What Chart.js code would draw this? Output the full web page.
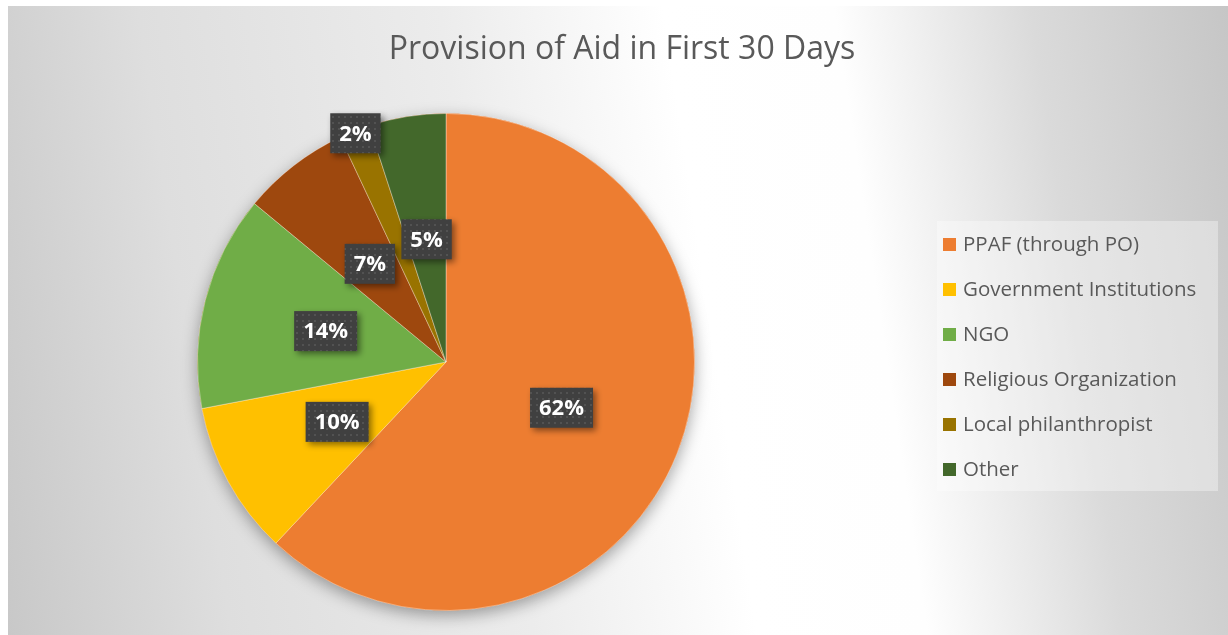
<!DOCTYPE html>
<html>
<head>
<meta charset="utf-8">
<script src="https://cdn.jsdelivr.net/npm/chart.js@4/dist/chart.umd.min.js"></script>
<style>
  html, body { margin: 0; padding: 0; background: #fff; }
  #frame {
    position: absolute; left: 8px; top: 6px; width: 1220px; height: 629px;
    background: linear-gradient(81.5deg, #c8c8c8 0%, #dedede 17%, #ececec 40%, #ffffff 57%, #fefefe 70%, #dadada 85%, #c6c6c6 100%);
  }
  #aidChart { position: absolute; left: 0; top: 0; }
</style>
</head>
<body>
<div id="frame"></div>
<canvas id="aidChart" width="1228" height="635"></canvas>
<script>
// --- Chart data ---
const chartTitle = 'Provision of Aid in First 30 Days';
const categories = ['PPAF (through PO)', 'Government Institutions', 'NGO', 'Religious Organization', 'Local philanthropist', 'Other'];
const shares = [62, 10, 14, 7, 2, 5];
const sliceColors = ['#ED7D31', '#FFC000', '#70AD47', '#9E480E', '#997300', '#43682B'];

const textGrey = '#595959';

// dotted dark fill used behind the data labels
function makeDotPattern(ctx) {
    const tile = document.createElement('canvas');
    tile.width = 6; tile.height = 6;
    const t = tile.getContext('2d');
    t.fillStyle = '#404040';
    t.fillRect(0, 0, 6, 6);
    t.fillStyle = '#525252';
    t.fillRect(2, 2, 2, 2);
    return ctx.createPattern(tile, 'repeat');
}

// Soft shadow under the whole pie
const pieShadow = {
    id: 'pieShadow',
    beforeDatasetsDraw(chart) {
        const arc = chart.getDatasetMeta(0).data[0];
        if (!arc) return;
        const ctx = chart.ctx;
        ctx.save();
        ctx.shadowColor = 'rgba(0,0,0,0.35)';
        ctx.shadowBlur = 16;
        ctx.shadowOffsetY = 5;
        ctx.fillStyle = sliceColors[0];
        ctx.beginPath();
        ctx.arc(arc.x, arc.y, arc.outerRadius, 0, Math.PI * 2);
        ctx.fill();
        ctx.restore();
    }
};

// Percentage boxes on the slices
const sliceLabels = {
    id: 'sliceLabels',
    afterDatasetsDraw(chart, args, opts) {
        const ctx = chart.ctx;
        const meta = chart.getDatasetMeta(0);
        const values = chart.data.datasets[0].data;
        const total = values.reduce((a, b) => a + b, 0);
        const pattern = makeDotPattern(ctx);
        ctx.save();
        ctx.font = 'bold 22px "Open Sans"';
        ctx.textAlign = 'center';
        ctx.textBaseline = 'middle';
        meta.data.forEach((arc, i) => {
            const mid = (arc.startAngle + arc.endAngle) / 2;
            const r = arc.outerRadius * (opts.radius[i] ?? 0.5);
            const x = arc.x + Math.cos(mid) * r;
            const y = arc.y + Math.sin(mid) * r;
            const txt = Math.round(values[i] / total * 100) + '%';
            const w = ctx.measureText(txt).width + 18;
            const h = 40;
            ctx.save();
            ctx.shadowColor = 'rgba(0,0,0,0.45)';
            ctx.shadowBlur = 6;
            ctx.shadowOffsetX = 3;
            ctx.shadowOffsetY = 3;
            ctx.fillStyle = pattern;
            ctx.fillRect(x - w / 2, y - h / 2, w, h);
            ctx.restore();
            ctx.fillStyle = '#ffffff';
            ctx.fillText(txt, x, y + 1);
        });
        ctx.restore();
    }
};

// Title and legend, laid out like the original
const sideText = {
    id: 'sideText',
    afterDraw(chart) {
        const ctx = chart.ctx;
        ctx.save();
        ctx.fillStyle = textGrey;
        ctx.font = '32px "Open Sans"';
        ctx.textAlign = 'center';
        ctx.textBaseline = 'middle';
        ctx.fillText(chartTitle, 622, 50);

        ctx.fillStyle = 'rgba(255,255,255,0.35)';
        ctx.fillRect(937, 221, 281, 270);
        ctx.font = '20.5px "Open Sans"';
        ctx.textAlign = 'left';
        chart.data.labels.forEach((lab, i) => {
            const cy = 244 + i * 45;
            ctx.fillStyle = chart.data.datasets[0].backgroundColor[i];
            ctx.fillRect(943, cy - 6, 13, 13);
            ctx.fillStyle = textGrey;
            ctx.fillText(lab, 963, cy + 1);
        });
        ctx.restore();
    }
};

new Chart(document.getElementById('aidChart'), {
    type: 'pie',
    data: {
        labels: categories,
        datasets: [{
            data: shares,
            backgroundColor: sliceColors,
            borderColor: 'rgba(255,255,255,0.35)',
            borderWidth: 1,
            hoverOffset: 0
        }]
    },
    options: {
        responsive: false,
        animation: false,
        events: [],
        layout: { padding: { left: 197, top: 113, right: 533, bottom: 24 } },
        plugins: {
            legend: { display: false },
            title: { display: false },
            tooltip: { enabled: false },
            sliceLabels: { radius: [0.5, 0.5, 0.5, 0.5, 0.99, 0.5] }
        }
    },
    plugins: [pieShadow, sliceLabels, sideText]
});
</script>
</body>
</html>
